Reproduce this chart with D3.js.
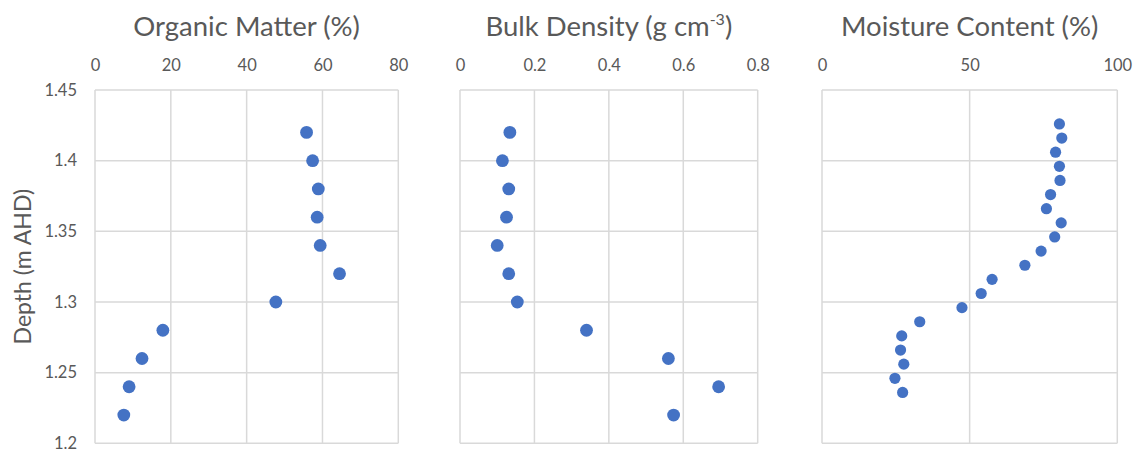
<!DOCTYPE html>
<html>
<head>
<meta charset="utf-8">
<script src="https://cdn.jsdelivr.net/npm/d3@7"></script>
<style>
  html, body { margin: 0; padding: 0; background: #ffffff; }
  svg { display: block; }
  text { font-family: Lato, "Open Sans", sans-serif; fill: #595959; }
</style>
</head>
<body>
<svg id="chart" width="1136" height="454"></svg>
<script>
// Depth profiles (m AHD) for the core
const coreDepth = [1.42, 1.40, 1.38, 1.36, 1.34, 1.32, 1.30, 1.28, 1.26, 1.24, 1.22];
const organicMatter = [55.8, 57.4, 58.9, 58.6, 59.4, 64.5, 47.7, 17.9, 12.4, 9.0, 7.6];
const bulkDensity = [0.134, 0.114, 0.131, 0.125, 0.100, 0.131, 0.154, 0.340, 0.560, 0.695, 0.574];

const moistureDepth = [1.426, 1.416, 1.406, 1.396, 1.386, 1.376, 1.366, 1.356, 1.346, 1.336,
                       1.326, 1.316, 1.306, 1.296, 1.286, 1.276, 1.266, 1.256, 1.246, 1.236];
const moistureContent = [80.4, 81.2, 79.1, 80.4, 80.6, 77.4, 76.0, 81.0, 78.8, 74.2,
                         68.7, 57.6, 53.9, 47.4, 33.1, 27.0, 26.6, 27.7, 24.7, 27.3];

const depthTicks = [1.2, 1.25, 1.3, 1.35, 1.4, 1.45];
const omTicks = [0, 20, 40, 60, 80];
const bdTicks = [0, 0.2, 0.4, 0.6, 0.8];
const mcTicks = [0, 50, 100];

const svg = d3.select("#chart");
const plotTop = 90, plotBottom = 443.3;
const y = d3.scaleLinear().domain([1.2, 1.45]).range([plotBottom, plotTop]);

const panels = [
  { left: 95, right: 398.3, domain: [0, 80], ticks: omTicks, fmt: d3.format("d"),
    depth: coreDepth, values: organicMatter, r: 6.4,
    title: [{ t: "Organic Matter (%)" }] },
  { left: 460, right: 757.7, domain: [0, 0.8], ticks: bdTicks,
    fmt: d => d === 0 ? "0" : d3.format(".1f")(d),
    depth: coreDepth, values: bulkDensity, r: 6.4,
    title: [{ t: "Bulk Density (g cm" }, { t: "-3", dy: -11, size: 16 }, { t: ")", dy: 11 }] },
  { left: 822, right: 1117.3, domain: [0, 100], ticks: mcTicks, fmt: d3.format("d"),
    depth: moistureDepth, values: moistureContent, r: 5.6,
    title: [{ t: "Moisture Content (%)" }] }
];

panels.forEach(p => {
  const x = d3.scaleLinear().domain(p.domain).range([p.left, p.right]);
  const g = svg.append("g");

  // gridlines: vertical at the x ticks, horizontal at the depth ticks
  g.selectAll("line.vgrid").data(p.ticks).join("line")
    .attr("class", "vgrid")
    .attr("x1", d => x(d)).attr("x2", d => x(d))
    .attr("y1", plotTop).attr("y2", plotBottom)
    .attr("stroke", "#d9d9d9").attr("stroke-width", 1.5);
  g.selectAll("line.hgrid").data(depthTicks).join("line")
    .attr("class", "hgrid")
    .attr("x1", p.left).attr("x2", p.right)
    .attr("y1", d => y(d)).attr("y2", d => y(d))
    .attr("stroke", "#d9d9d9").attr("stroke-width", 1.5);

  // value axis along the top
  const xAxis = d3.axisTop(x).tickValues(p.ticks).tickFormat(p.fmt).tickSize(0).tickPadding(0);
  const ax = g.append("g").attr("transform", `translate(0,${plotTop - 19.5})`).call(xAxis);
  ax.select(".domain").remove();
  ax.selectAll("text").attr("font-size", 16.5).attr("fill", "#595959")
    .attr("font-family", "Lato, sans-serif").attr("dy", 0);

  // panel title
  const title = g.append("text")
    .attr("x", (p.left + p.right) / 2).attr("y", 36)
    .attr("text-anchor", "middle").attr("font-size", 27.5);
  p.title.forEach(s => {
    const ts = title.append("tspan").text(s.t);
    if (s.size) ts.attr("font-size", s.size);
    if (s.dy) ts.attr("dy", s.dy);
  });

  // measurements
  g.selectAll("circle").data(p.values).join("circle")
    .attr("cx", d => x(d))
    .attr("cy", (d, k) => y(p.depth[k]))
    .attr("r", p.r)
    .attr("fill", "#4472c4");
});

// depth axis on the first panel
const yAxis = d3.axisLeft(y).tickValues(depthTicks).tickFormat(d => String(d)).tickSize(0).tickPadding(0);
const ay = svg.append("g").attr("transform", "translate(77,0)").call(yAxis);
ay.select(".domain").remove();
ay.selectAll("text").attr("font-size", 16.5).attr("fill", "#595959").attr("font-family", "Lato, sans-serif");

svg.append("text")
  .attr("transform", `translate(31,${(plotTop + plotBottom) / 2}) rotate(-90)`)
  .attr("text-anchor", "middle").attr("font-size", 23)
  .text("Depth (m AHD)");
</script>
</body>
</html>
